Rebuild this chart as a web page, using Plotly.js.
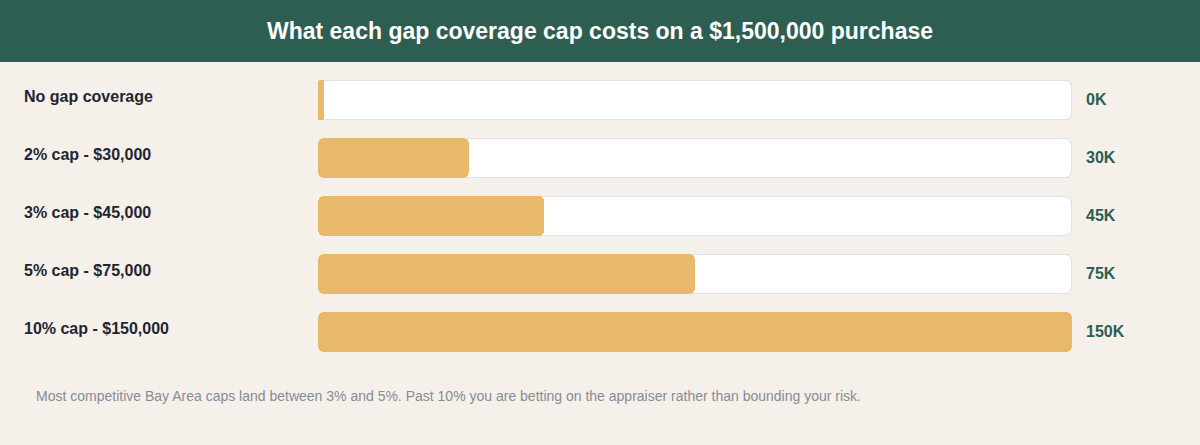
<!DOCTYPE html>
<html>
<head>
<meta charset="utf-8">
<script src="https://cdn.plot.ly/plotly-3.0.1.min.js"></script>
<style>
html,body{margin:0;padding:0;background:#f5f0ea;}
#chart{width:1200px;height:445px;}
</style>
</head>
<body>
<div id="chart"></div>
<script>
// Data
const categories = ["No gap coverage", "2% cap - $30,000", "3% cap - $45,000", "5% cap - $75,000", "10% cap - $150,000"];
const costs = [0, 30000, 45000, 75000, 150000];
const valueLabels = ["0K", "30K", "45K", "75K", "150K"];
const maxCost = 150000;
const titleText = "What each gap coverage cap costs on a $1,500,000 purchase";
const footnote = "Most competitive Bay Area caps land between 3% and 5%. Past 10% you are betting on the appraiser rather than bounding your risk.";

const W = 1200, H = 445;
const trackLeft = 318, trackRight = 1072;
const rowTop = 71, rowStep = 58, barH = 40;
const pxVal = maxCost / (trackRight - trackLeft);
const minVal = 6 * pxVal;
const idx = categories.map((c, i) => i);
const FONT = 'Liberation Sans, Arial, sans-serif';

// Each rounded bar is drawn as two overlapping halves growing outward from its
// midpoint, so that both ends get rounded corners.
function halves(values, thick, color, radius, inset) {
  const mids = values.map(v => v / 2);
  const ovs = mids.map(m => Math.min(5 * pxVal, m / 2));
  const common = {
    type: 'bar', orientation: 'h', y: idx,
    width: thick / rowStep,
    marker: {color: color, line: {width: 0}, cornerradius: radius},
    hoverinfo: 'skip', showlegend: false
  };
  return [
    Object.assign({}, common, {base: mids.map((m, i) => m + ovs[i]),
                               x: mids.map((m, i) => -(m + ovs[i] - inset))}),
    Object.assign({}, common, {base: mids.map((m, i) => m - ovs[i]),
                               x: mids.map((m, i) => (m + ovs[i] - inset))})
  ];
}

const trackVals = idx.map(() => maxCost);
const fillVals = costs.map(v => Math.max(v, minVal));

const traces = [].concat(
  halves(trackVals, barH, '#dde2e8', 7, 0),
  halves(trackVals, barH - 2, '#ffffff', 6, 1 * pxVal),
  halves(fillVals, barH, '#e8b86b', 6, 0)
);

const yBottom = rowTop + rowStep * categories.length;
const annotations = [];
categories.forEach((c, i) => {
  annotations.push({
    xref: 'paper', yref: 'y', x: 22 / W, y: i, yshift: 4,
    xanchor: 'left', yanchor: 'middle', showarrow: false,
    text: '<b>' + c + '</b>', font: {family: FONT, size: 16, color: '#1f2630'}
  });
  annotations.push({
    xref: 'paper', yref: 'y', x: 1084 / W, y: i, yshift: 1,
    xanchor: 'left', yanchor: 'middle', showarrow: false,
    text: '<b>' + valueLabels[i] + '</b>', font: {family: FONT, size: 16, color: '#2e5e51'}
  });
});
annotations.push({
  xref: 'paper', yref: 'paper', x: 34 / W, y: 1 - 396 / H,
  xanchor: 'left', yanchor: 'middle', showarrow: false,
  text: footnote, font: {family: FONT, size: 14, color: '#878c93'}
});

const layout = {
  width: W, height: H,
  margin: {l: 0, r: 0, t: 0, b: 0},
  paper_bgcolor: '#f5f0ea', plot_bgcolor: 'rgba(0,0,0,0)',
  barmode: 'overlay', bargap: 0,
  title: {text: '<b>' + titleText + '</b>', x: 0.5, xanchor: 'center', xref: 'paper',
          y: 1 - 31 / H, yanchor: 'middle', yref: 'container',
          font: {family: FONT, size: 23, color: '#ffffff'}},
  xaxis: {range: [0, maxCost], domain: [trackLeft / W, trackRight / W],
          showgrid: false, zeroline: false, showticklabels: false, showline: false, fixedrange: true},
  yaxis: {range: [categories.length - 0.5, -0.5],
          domain: [1 - yBottom / H, 1 - rowTop / H],
          showgrid: false, zeroline: false, showticklabels: false, showline: false, fixedrange: true},
  shapes: [{type: 'rect', xref: 'paper', yref: 'paper', x0: 0, x1: 1, y0: 1 - 62 / H, y1: 1,
            fillcolor: '#2e5e51', line: {width: 0}, layer: 'below'}],
  annotations: annotations
};

Plotly.newPlot('chart', traces, layout, {displayModeBar: false, staticPlot: true});
</script>
</body>
</html>
